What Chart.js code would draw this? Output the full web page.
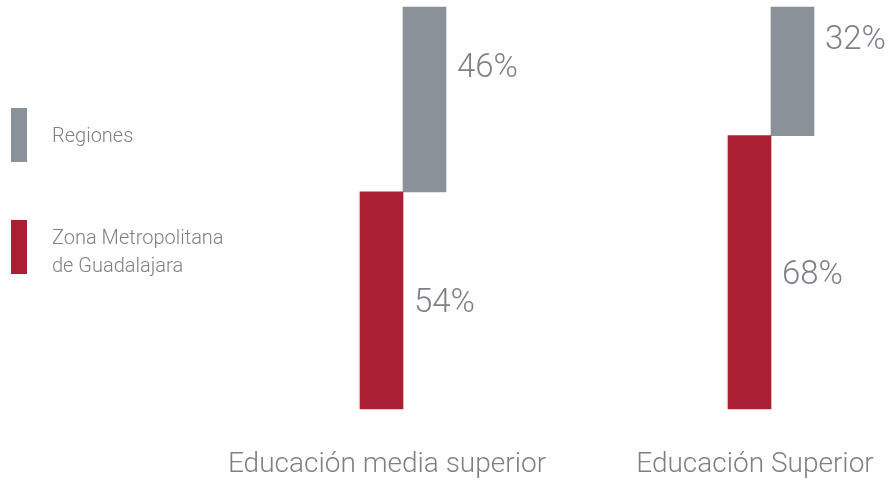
<!DOCTYPE html>
<html>
<head>
<meta charset="utf-8">
<script src="https://cdn.jsdelivr.net/npm/chart.js@4/dist/chart.umd.min.js"></script>
<style>
    html, body { margin: 0; padding: 0; background: #ffffff; }
    #eduChart { display: block; }
</style>
</head>
<body>
<canvas id="eduChart" width="896" height="485"></canvas>
<script>
// data
const categories = ['Educación media superior', 'Educación Superior']
const zmgShare = [54, 68]
const regionShare = [46, 32]
const zmgName = ['Zona Metropolitana', 'de Guadalajara']
const regionName = ['Regiones']

const RED = '#aa1f32'
const GREY = '#8b9199'
const TEXT = '#7d8087'

// percentage labels next to every bar
const valueLabels = {
    id: 'valueLabels',
    afterDatasetsDraw(chart) {
        const ctx = chart.ctx
        ctx.save()
        ctx.font = '300 33px Roboto'
        ctx.fillStyle = TEXT
        ctx.textAlign = 'left'
        ctx.textBaseline = 'middle'
        chart.data.datasets.forEach(function (ds, di) {
            const meta = chart.getDatasetMeta(di)
            meta.data.forEach(function (bar, i) {
                const mid = (bar.y + bar.base) / 2
                ctx.fillText(ds.shares[i] + '%', bar.x + bar.width / 2 + 11, mid + ds.labelShift)
            })
        })
        ctx.restore()
    }
}

// tall swatches with text on the left side
const sideLegend = {
    id: 'sideLegend',
    afterDraw(chart) {
        const ctx = chart.ctx
        const rows = [{ ds: chart.data.datasets[1], top: 108 }, { ds: chart.data.datasets[0], top: 220 }]
        ctx.save()
        ctx.font = '300 20px Roboto'
        ctx.textAlign = 'left'
        ctx.textBaseline = 'middle'
        rows.forEach(function (row) {
            ctx.fillStyle = row.ds.backgroundColor
            ctx.fillRect(11, row.top, 16, 54)
            ctx.fillStyle = TEXT
            const lines = row.ds.legendLines
            const start = row.top + 29 - (lines.length - 1) * 14
            lines.forEach(function (line, k) {
                ctx.fillText(line, 52, start + k * 28 + (lines.length > 1 ? 4 : 0))
            })
        })
        ctx.restore()
    }
}

const data = {
    labels: categories,
    datasets: [{
        label: zmgName.join(' '),
        legendLines: zmgName,
        shares: zmgShare,
        labelShift: 3,
        data: zmgShare.map(v => [0, v]),
        backgroundColor: RED,
        borderWidth: 0,
        barThickness: 43,
        clip: false
    }, {
        label: regionName.join(' '),
        legendLines: regionName,
        shares: regionShare,
        labelShift: -31,
        data: zmgShare.map((v, i) => [v, v + regionShare[i]]),
        backgroundColor: GREY,
        borderWidth: 0,
        barThickness: 43,
        clip: false
    }]
}

const config = {
    type: 'bar',
    data: data,
    options: {
        responsive: false,
        animation: false,
        devicePixelRatio: 1,
        layout: {
            padding: { left: 403, right: 125, top: 7, bottom: 0 }
        },
        plugins: {
            legend: { display: false },
            tooltip: { enabled: false }
        },
        scales: {
            x: {
                type: 'category',
                offset: false,
                grid: { display: false, drawTicks: false },
                border: { display: false },
                ticks: {
                    color: TEXT,
                    font: { family: 'Roboto', weight: 300, size: 28 },
                    padding: 39,
                    labelOffset: -16,
                    maxRotation: 0,
                    autoSkip: false
                },
                afterFit: function (scale) {
                    // keep the axis band fixed, labels may hang past the bars
                    scale.height = 76
                    scale.paddingLeft = 0
                    scale.paddingRight = 0
                }
            },
            y: {
                display: false,
                min: 0,
                max: 100
            }
        }
    },
    plugins: [valueLabels, sideLegend]
}

new Chart(document.getElementById('eduChart'), config)
</script>
</body>
</html>
